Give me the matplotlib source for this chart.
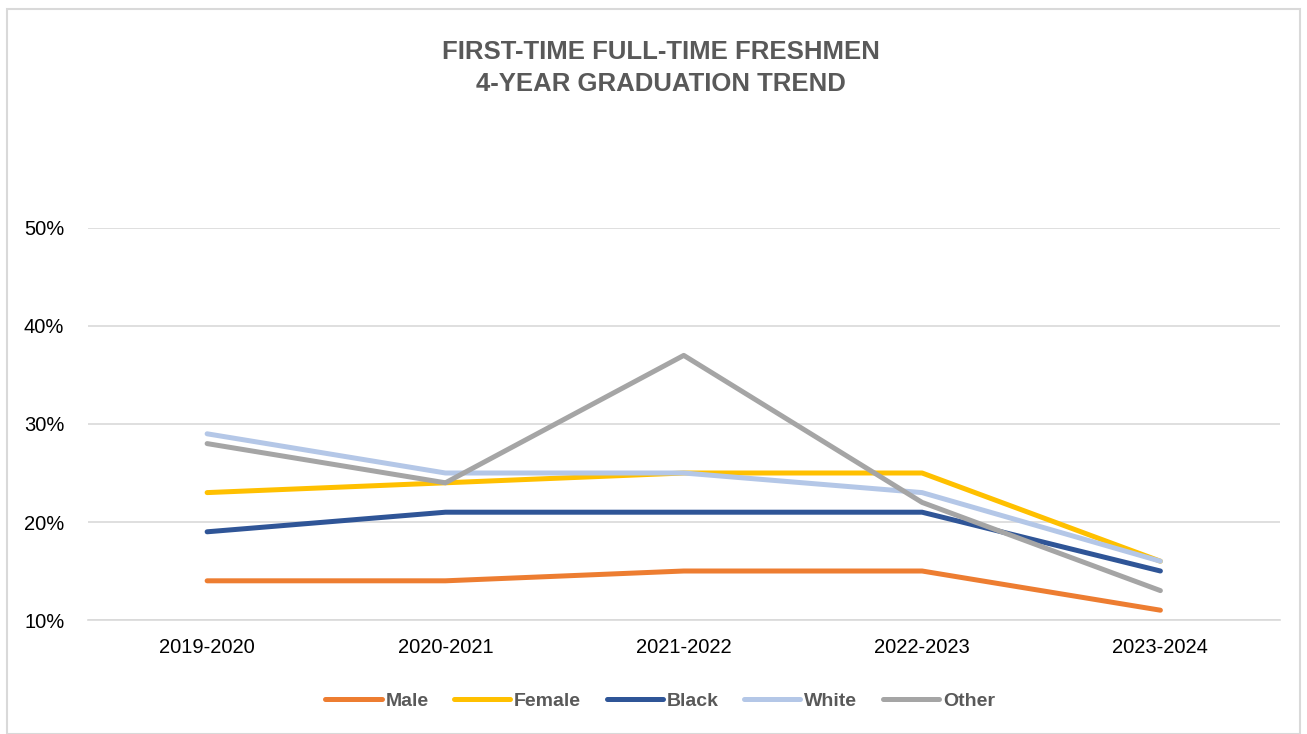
import matplotlib

matplotlib.use("Agg")
import matplotlib.pyplot as plt
from matplotlib.patches import Rectangle
from matplotlib.ticker import FuncFormatter

YEARS = ["2019-2020", "2020-2021", "2021-2022", "2022-2023", "2023-2024"]
MALE = [14, 14, 15, 15, 11]
FEMALE = [23, 24, 25, 25, 16]
BLACK = [19, 21, 21, 21, 15]
WHITE = [29, 25, 25, 23, 16]
OTHER = [28, 24, 37, 22, 13]

SERIES = [
    ("Male", MALE, "#ED7D31"),
    ("Female", FEMALE, "#FFC000"),
    ("Black", BLACK, "#2F5597"),
    ("White", WHITE, "#B4C7E7"),
    ("Other", OTHER, "#A5A5A5"),
]

plt.rcParams["font.family"] = ["Liberation Sans", "DejaVu Sans"]

fig = plt.figure(figsize=(13.07, 7.34), dpi=100)
ax = fig.add_axes([0.0673, 0.1553, 0.9117, 0.5341])

x = range(len(YEARS))
for name, values, color in SERIES:
    ax.plot(x, values, color=color, linewidth=3.6, solid_capstyle="round", label=name)

ax.set_xlim(-0.5, len(YEARS) - 0.5)
ax.set_ylim(10, 50)
ax.set_yticks([10, 20, 30, 40, 50])
ax.yaxis.set_major_formatter(FuncFormatter(lambda v, _: f"{v:.0f}%"))
ax.set_xticks(list(x))
ax.set_xticklabels(YEARS)
ax.tick_params(axis="both", length=0, labelsize=14.5, colors="black")
ax.tick_params(axis="x", pad=13)
ax.tick_params(axis="y", pad=17)
ax.grid(axis="y", color="#D9D9D9", linewidth=1.2)
ax.set_axisbelow(True)
for side in ["top", "right", "left"]:
    ax.spines[side].set_visible(False)
ax.spines["bottom"].set_color("#D9D9D9")
ax.spines["bottom"].set_linewidth(1.2)

fig.text(0.506, 0.907, "FIRST-TIME FULL-TIME FRESHMEN\n4-YEAR GRADUATION TREND",
         ha="center", va="center", fontsize=18.5, fontweight="bold",
         color="#595959", linespacing=1.4)

leg = fig.legend(loc="center", bbox_to_anchor=(0.505, 0.045), ncol=5, frameon=False,
                 handlelength=2.9, handletextpad=0.2, columnspacing=1.3,
                 prop={"size": 14, "weight": "bold"})
for text in leg.get_texts():
    text.set_color("#595959")

fig.patches.append(Rectangle((0.005, 0.0), 0.99, 0.988, transform=fig.transFigure,
                             fill=False, edgecolor="#D9D9D9", linewidth=1.5))

fig.savefig("out.png", dpi=100)
